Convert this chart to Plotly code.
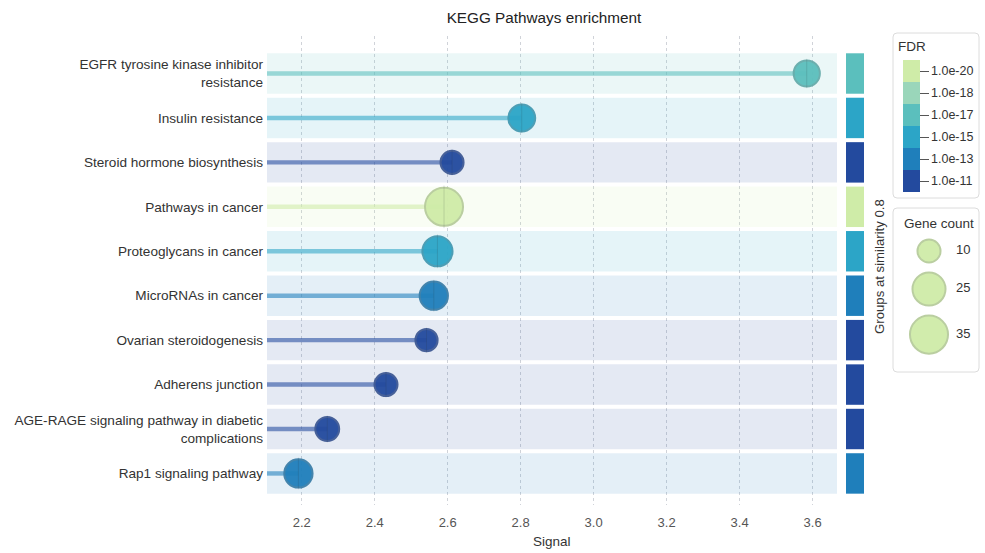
import numpy as np
import plotly.graph_objects as go

# ---------------- data ----------------
pathways = [
    "EGFR tyrosine kinase inhibitor<br>resistance",
    "Insulin resistance",
    "Steroid hormone biosynthesis",
    "Pathways in cancer",
    "Proteoglycans in cancer",
    "MicroRNAs in cancer",
    "Ovarian steroidogenesis",
    "Adherens junction",
    "AGE-RAGE signaling pathway in diabetic<br>complications",
    "Rap1 signaling pathway",
]
signal = [3.584, 2.803, 2.612, 2.590, 2.572, 2.562, 2.542, 2.431, 2.270, 2.191]
gene_count = [14, 15, 10, 35, 20, 17, 9, 10, 11, 17]
fdr = [1e-17, 1e-15, 1e-11, 1e-20, 1e-15, 1e-13, 1e-11, 1e-11, 1e-11, 1e-13]

fdr_tick_labels = ["1.0e-20", "1.0e-18", "1.0e-17", "1.0e-15", "1.0e-13", "1.0e-11"]
fdr_tick_exps = [-20, -18, -17, -15, -13, -11]
size_legend_counts = [10, 25, 35]
x_ticks = [2.2, 2.4, 2.6, 2.8, 3.0, 3.2, 3.4, 3.6]

# ---------------- styling ----------------
palette = ["#cfeca8", "#9ad6ba", "#5bbfbd", "#2ca5c7", "#1f7fbb", "#234a9e"]  # light -> dark
FONT = "Liberation Sans, Arial, Helvetica, sans-serif"
W, H = 985, 553
x_range = [2.1049, 3.6669]
y_range = [9.71, -0.844]


def hex_rgb(h):
    h = h.lstrip("#")
    return tuple(int(h[i:i + 2], 16) for i in (0, 2, 4))


def rgba(h, a):
    r, g, b = hex_rgb(h)
    return f"rgba({r},{g},{b},{a})"


def mix(h, other, t):
    r, g, b = hex_rgb(h)
    r2, g2, b2 = hex_rgb(other)
    return "#%02x%02x%02x" % (round(r + (r2 - r) * t), round(g + (g2 - g) * t), round(b + (b2 - b) * t))


def diam(c):
    return 5.8 + 5.45 * np.sqrt(c)


bin_idx = [int(np.argmin([abs(np.log10(f) - e) for e in fdr_tick_exps])) for f in fdr]
cols = [palette[i] for i in bin_idx]
cvals = [len(palette) - 1 - i for i in bin_idx]
n = len(pathways)

# discrete colorscale (bottom = darkest)
cs = []
for k in range(len(palette)):
    c = palette[len(palette) - 1 - k]
    cs.append([k / len(palette), c])
    cs.append([(k + 1) / len(palette), c])

fig = go.Figure()

# background bands
fig.add_trace(go.Bar(
    y=pathways, x=[x_range[1] - x_range[0]] * n, base=[x_range[0]] * n,
    orientation="h", width=0.91,
    marker=dict(color=[rgba(c, 0.12) for c in cols], line=dict(width=0)),
    hoverinfo="skip",
))

# stems
fig.add_trace(go.Bar(
    y=pathways, x=[s - x_range[0] for s in signal], base=[x_range[0]] * n,
    orientation="h", width=0.1,
    marker=dict(color=[rgba(c, 0.58) for c in cols], line=dict(width=0)),
    hoverinfo="skip",
))

# circles
fig.add_trace(go.Scatter(
    x=signal, y=pathways, mode="markers",
    marker=dict(
        size=[diam(c) for c in gene_count], sizemode="diameter",
        color=cvals, colorscale=cs, cmin=-0.5, cmax=len(palette) - 0.5,
        opacity=0.95,
        line=dict(width=2, color=[mix(c, "#808080", 0.3) for c in cols]),
        colorbar=dict(
            x=903 / W, xanchor="left", xpad=0,
            y=1 - 60 / H, yanchor="top", ypad=0,
            len=132, lenmode="pixels", thickness=17, thicknessmode="pixels",
            outlinewidth=0,
            tickvals=list(range(len(palette) - 1, -1, -1)), ticktext=fdr_tick_labels,
            ticks="outside", ticklen=9, tickcolor="#555", tickwidth=1,
            tickfont=dict(family=FONT, size=12.5, color="#333"),
        ),
    ),
    hovertemplate="%{y}<br>Signal %{x}<extra></extra>",
))

# center lines within circles
fig.add_trace(go.Scatter(
    x=signal, y=pathways, mode="markers",
    marker=dict(symbol="line-ns-open", size=[diam(c) * 0.8 for c in gene_count],
                color="rgba(40,50,60,0.22)",
                line=dict(width=1, color="rgba(40,50,60,0.22)")),
    hoverinfo="skip",
))

# group column
fig.add_trace(go.Bar(
    y=pathways, x=[1] * n, orientation="h", width=0.91,
    marker=dict(color=cols, line=dict(width=0)),
    xaxis="x2", yaxis="y", hoverinfo="skip",
))

# gene count legend
legend_d = [diam(c) for c in size_legend_counts]
ly = []
cur = 31.5
for i, d in enumerate(legend_d):
    if i == 0:
        cur = cur + d / 2
    else:
        cur = cur + (legend_d[i - 1] + d) / 2 + 10
    ly.append(cur)
fig.add_trace(go.Scatter(
    x=[36] * len(size_legend_counts), y=ly, mode="markers",
    marker=dict(size=legend_d, sizemode="diameter", color=palette[0], opacity=0.95,
                line=dict(width=2, color=mix(palette[0], "#808080", 0.3))),
    xaxis="x3", yaxis="y3", hoverinfo="skip",
))
fig.add_trace(go.Scatter(
    x=[63] * len(size_legend_counts), y=ly, mode="text",
    text=[str(c) for c in size_legend_counts], textposition="middle right",
    textfont=dict(family=FONT, size=13, color="#333"),
    xaxis="x3", yaxis="y3", hoverinfo="skip",
))


def rrect(x0, y0, x1, y1, r=4):
    X0, X1 = x0 / W, x1 / W
    Y0, Y1 = 1 - y1 / H, 1 - y0 / H
    rx, ry = r / W, r / H
    return (f"M{X0 + rx},{Y0} L{X1 - rx},{Y0} Q{X1},{Y0} {X1},{Y0 + ry} "
            f"L{X1},{Y1 - ry} Q{X1},{Y1} {X1 - rx},{Y1} L{X0 + rx},{Y1} "
            f"Q{X0},{Y1} {X0},{Y1 - ry} L{X0},{Y0 + ry} Q{X0},{Y0} {X0 + rx},{Y0} Z")


shapes = [
    dict(type="path", xref="paper", yref="paper", path=rrect(893, 33, 979, 198),
         line=dict(color="#dcdcdc", width=1), layer="below"),
    dict(type="path", xref="paper", yref="paper", path=rrect(893, 208, 979, 372),
         line=dict(color="#dcdcdc", width=1), layer="below"),
]

annotations = [
    dict(text="FDR", x=896 / W, y=1 - 46 / H, xref="paper", yref="paper",
         xanchor="left", yanchor="middle", showarrow=False,
         font=dict(family=FONT, size=13.5, color="#333")),
    dict(text="Gene count", x=939 / W, y=1 - 223 / H, xref="paper", yref="paper",
         xanchor="center", yanchor="middle", showarrow=False,
         font=dict(family=FONT, size=13.5, color="#333")),
    dict(text="Groups at similarity 0.8", x=880 / W, y=1 - 267 / H, xref="paper", yref="paper",
         xanchor="center", yanchor="middle", textangle=-90, showarrow=False,
         font=dict(family=FONT, size=13.2, color="#333")),
    dict(text="Signal", x=552 / W, y=1 - 541 / H, xref="paper", yref="paper",
         xanchor="center", yanchor="middle", showarrow=False,
         font=dict(family=FONT, size=13.5, color="#333")),
]

fig.update_layout(
    width=W, height=H,
    margin=dict(l=0, r=0, t=0, b=0),
    paper_bgcolor="white", plot_bgcolor="white",
    showlegend=False, barmode="overlay",
    font=dict(family=FONT, size=13.5, color="#333"),
    title=dict(text="KEGG Pathways enrichment", x=544 / W, y=1 - 18 / H,
               xanchor="center", yanchor="middle", xref="paper", yref="paper",
               font=dict(family=FONT, size=15.3, color="#222")),
    xaxis=dict(domain=[267 / W, 837 / W], range=x_range, tickvals=x_ticks,
               ticktext=[f"{v:.1f}" for v in x_ticks],
               showgrid=True, gridcolor="#d0d3d9", griddash="dot", gridwidth=1,
               zeroline=False, showline=False, ticks="",
               tickfont=dict(family=FONT, size=13, color="#555"),
               ticklabelstandoff=8, anchor="y"),
    yaxis=dict(domain=[1 - 505 / H, 1 - 36 / H], type="category",
               categoryorder="array", categoryarray=pathways, range=y_range,
               showgrid=False, zeroline=False, showline=False, ticks="",
               ticklabelstandoff=3,
               tickfont=dict(family=FONT, size=13.6, color="#333"), anchor="x"),
    xaxis2=dict(domain=[846 / W, 864 / W], range=[0, 1], visible=False, anchor="y"),
    xaxis3=dict(domain=[893 / W, 979 / W], range=[0, 86], visible=False, anchor="y3"),
    yaxis3=dict(domain=[1 - 372 / H, 1 - 208 / H], range=[164, 0], visible=False, anchor="x3"),
    shapes=shapes, annotations=annotations,
)

fig.write_html("out.html", config={"displayModeBar": False},
               post_script="document.body.style.margin='0px';")
